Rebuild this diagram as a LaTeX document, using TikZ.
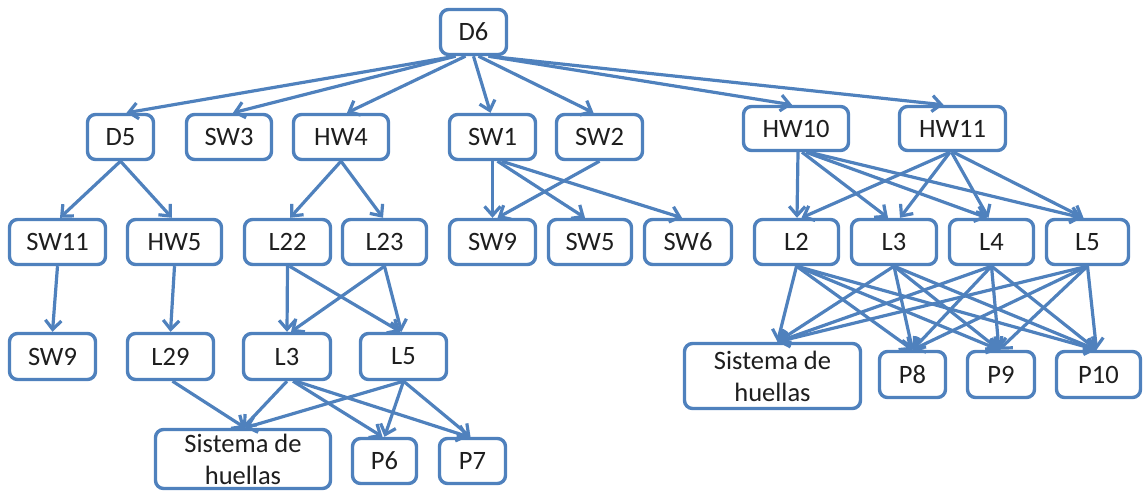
\documentclass[tikz,border=0pt]{standalone}
\usepackage{fontspec}
\setmainfont{Carlito}
\usetikzlibrary{arrows.meta}
\definecolor{office}{RGB}{79,129,189}
\definecolor{ink}{RGB}{30,30,30}
\begin{document}
\begin{tikzpicture}[x=1pt,y=-1pt,
  box/.style={draw=office, line width=3.4pt, rounded corners=8pt, fill=white,
    inner sep=0pt, text=ink, align=center,
    font=\fontsize{26.5}{32}\selectfont},
  arr/.style={draw=office, line width=3.2pt,
    -{Straight Barb[length=9pt,width=16pt]}}]
\useasboundingbox (0,0) rectangle (1143,492);

% top level
\node[box, minimum width=66pt, minimum height=45pt] (D6) at (473.5,32) {D6};

% second row
\node[box, minimum width=66pt, minimum height=45pt] (D5)  at (120.5,137) {D5};
\node[box, minimum width=85pt, minimum height=45pt] (SW3) at (229,137) {SW3};
\node[box, minimum width=95pt, minimum height=45pt] (HW4) at (341,137) {HW4};
\node[box, minimum width=86pt, minimum height=45pt] (SW1) at (492.5,137) {SW1};
\node[box, minimum width=86pt, minimum height=45pt] (SW2) at (599.5,137) {SW2};
\node[box, minimum width=105pt, minimum height=44pt] (HW10) at (796,128.5) {HW10};
\node[box, minimum width=106pt, minimum height=44pt] (HW11) at (952.5,128.5) {HW11};

% third row
\node[box, minimum width=96pt, minimum height=45pt] (SW11) at (57.5,242) {SW11};
\node[box, minimum width=94pt, minimum height=45pt] (HW5)  at (174.5,242) {HW5};
\node[box, minimum width=86pt, minimum height=45pt] (L22)  at (287.5,242) {L22};
\node[box, minimum width=84pt, minimum height=45pt] (L23)  at (384.5,242) {L23};
\node[box, minimum width=86pt, minimum height=45pt] (SW9)  at (492.5,242) {SW9};
\node[box, minimum width=83pt, minimum height=45pt] (SW5)  at (590,242) {SW5};
\node[box, minimum width=87pt, minimum height=45pt] (SW6)  at (688,242) {SW6};
\node[box, minimum width=84pt, minimum height=45pt] (L2)   at (796.5,242) {L2};
\node[box, minimum width=85pt, minimum height=45pt] (L3)   at (894,242) {L3};
\node[box, minimum width=84pt, minimum height=45pt] (L4)   at (991.5,242) {L4};
\node[box, minimum width=82pt, minimum height=45pt] (L5)   at (1087.5,242) {L5};

% fourth row (left branch)
\node[box, minimum width=86pt, minimum height=46pt] (SW9b) at (52.5,356.5) {SW9};
\node[box, minimum width=86pt, minimum height=46pt] (L29)  at (170.5,356.5) {L29};
\node[box, minimum width=87pt, minimum height=46pt] (L3b)  at (287,356.5) {L3};
\node[box, minimum width=86pt, minimum height=46pt] (L5b)  at (403.5,356.5) {L5};

% leaves
\node[box, minimum width=175pt, minimum height=59pt] (SisL) at (243,459) {Sistema de\\huellas};
\node[box, minimum width=64pt, minimum height=45pt] (P6) at (384.5,461) {P6};
\node[box, minimum width=66pt, minimum height=45pt] (P7) at (472.5,461) {P7};
\node[box, minimum width=176pt, minimum height=65pt] (SisR) at (772.5,376) {Sistema de\\huellas};
\node[box, minimum width=66pt, minimum height=46pt] (P8)  at (912.5,374.5) {P8};
\node[box, minimum width=67pt, minimum height=46pt] (P9)  at (1001,374.5) {P9};
\node[box, minimum width=84pt, minimum height=46pt] (P10) at (1098.5,374.5) {P10};

% D6 fan-out
\draw[arr] ([xshift=-18pt]D6.south) -- ([xshift=6pt]D5.north);
\draw[arr] ([xshift=-18pt]D6.south) -- ([xshift=4pt]SW3.north);
\draw[arr] ([xshift=-8pt]D6.south)  -- ([xshift=6pt]HW4.north);
\draw[arr] (D6.south)               -- ([xshift=-2pt]SW1.north);
\draw[arr] ([xshift=5pt]D6.south)   -- ([xshift=-6pt]SW2.north);
\draw[arr] ([xshift=15pt]D6.south)  -- ([xshift=-4pt]HW10.north);
\draw[arr] ([xshift=15pt]D6.south)  -- ([xshift=-9pt]HW11.north);

% second to third row
\draw[arr] (D5.south) -- ([xshift=2.5pt]SW11.north);
\draw[arr] (D5.south) -- ([xshift=-2.5pt]HW5.north);
\draw[arr] (HW4.south) -- ([xshift=2.5pt]L22.north);
\draw[arr] (HW4.south) -- ([xshift=-1.5pt]L23.north);
\draw[arr] (SW1.south) -- (SW9.north);
\draw[arr] ([xshift=5pt]SW1.south) -- ([xshift=-5pt]SW5.north);
\draw[arr] ([xshift=9pt]SW1.south) -- ([xshift=-6pt]SW6.north);
\draw[arr] (SW2.south) -- ([xshift=5pt]SW9.north);
\draw[arr] ([xshift=2pt]HW10.south)  -- ([xshift=0.5pt]L2.north);
\draw[arr] ([xshift=6pt]HW10.south)  -- ([xshift=-6pt]L3.north);
\draw[arr] ([xshift=10pt]HW10.south) -- ([xshift=-4.5pt]L4.north);
\draw[arr] ([xshift=13pt]HW10.south) -- ([xshift=-5.5pt]L5.north);
\draw[arr] ([xshift=-2.5pt]HW11.south) -- ([xshift=5pt]L2.north);
\draw[arr] ([xshift=-2.5pt]HW11.south) -- ([xshift=6pt]L3.north);
\draw[arr] ([xshift=-1pt]HW11.south)   -- ([xshift=-3pt]L4.north);
\draw[arr] ([xshift=1pt]HW11.south)    -- ([xshift=-4pt]L5.north);

% third to fourth row (left)
\draw[arr] (SW11.south) -- (SW9b.north);
\draw[arr] (HW5.south) -- (L29.north);
\draw[arr] (L22.south) -- (L3b.north);
\draw[arr] ([xshift=2pt]L22.south) -- ([xshift=-3pt]L5b.north);
\draw[arr] (L23.south) -- ([xshift=4pt]L3b.north);
\draw[arr] (L23.south) -- ([xshift=-2pt]L5b.north);

% fourth row to leaves (left)
\draw[arr] ([xshift=2pt]L29.south) -- ([xshift=2pt]SisL.north);
\draw[arr] (L3b.south) -- (SisL.north);
\draw[arr] ([xshift=6pt]L3b.south) -- ([xshift=-2pt]P6.north);
\draw[arr] ([xshift=9pt]L3b.south) -- ([xshift=-4pt]P7.north);
\draw[arr] (L5b.south) -- ([xshift=2pt]SisL.north);
\draw[arr] (L5b.south) -- (P6.north);
\draw[arr] (L5b.south) -- ([xshift=-2pt]P7.north);

% third row to leaves (right)
\foreach \src in {L2,L3,L4,L5}{
  \draw[arr] (\src.south) -- ([xshift=5pt]SisR.north);
  \draw[arr] (\src.south) -- (P8.north);
  \draw[arr] (\src.south) -- ([xshift=-2pt]P9.north);
  \draw[arr] (\src.south) -- ([xshift=-2pt]P10.north);
}
\end{tikzpicture}
\end{document}
